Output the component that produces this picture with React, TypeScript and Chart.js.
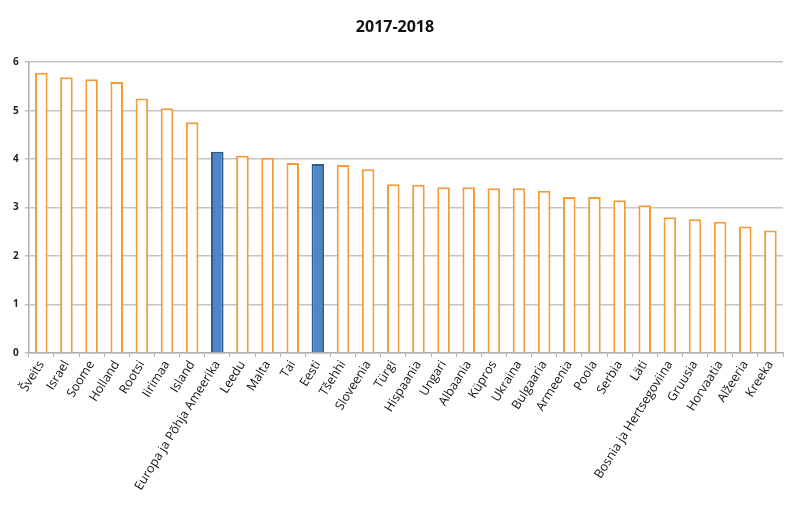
import React, { useEffect, useRef } from "react";
import { Chart, registerables } from "chart.js";

Chart.register(...registerables);

const categories = [
  "Šveits", "Israel", "Soome", "Holland", "Rootsi", "Iirimaa", "Island",
  "Europa ja Põhja Ameerika", "Leedu", "Malta", "Tai", "Eesti", "Tšehhi",
  "Sloveenia", "Türgi", "Hispaania", "Ungari", "Albaania", "Küpros", "Ukraina",
  "Bulgaaria", "Armeenia", "Poola", "Serbia", "Läti",
  "Bosnia ja Hertsegoviina", "Gruusia", "Horvaatia", "Alžeeria", "Kreeka",
];

const values = [
  5.78, 5.69, 5.65, 5.59, 5.25, 5.05, 4.76, 4.15, 4.07, 4.03, 3.92, 3.9, 3.88,
  3.79, 3.48, 3.47, 3.42, 3.42, 3.4, 3.4, 3.35, 3.22, 3.22, 3.15, 3.05, 2.8,
  2.76, 2.71, 2.61, 2.53,
];

const highlighted = ["Europa ja Põhja Ameerika", "Eesti"];

const yTicks = [0, 1, 2, 3, 4, 5, 6];

export default function App() {
  const ref = useRef<HTMLCanvasElement>(null);

  useEffect(() => {
    if (!ref.current) return;
    const isHi = categories.map((c) => highlighted.includes(c));
    const chart = new Chart(ref.current, {
      type: "bar",
      data: {
        labels: categories,
        datasets: [
          {
            data: values,
            backgroundColor: isHi.map((h) => (h ? "#4F86C6" : "#FFFFFF")),
            borderColor: isHi.map((h) => (h ? "#2E5C8E" : "#F79A3A")),
            borderWidth: 2,
            barPercentage: 0.5,
            categoryPercentage: 1,
          },
        ],
      },
      options: {
        animation: false,
        responsive: false,
        maintainAspectRatio: false,
        layout: { padding: { left: 7, right: 17, top: 14, bottom: 12 } },
        plugins: {
          legend: { display: false },
          tooltip: { enabled: false },
          title: {
            display: true,
            text: "2017-2018",
            color: "#111111",
            font: { family: "Open Sans", size: 16, weight: "bold" },
            padding: { top: 4, bottom: 25 },
          },
        },
        scales: {
          x: {
            offset: true,
            grid: {
              offset: true,
              drawOnChartArea: false,
              color: "#b0b0b0",
              tickLength: 4,
            },
            border: { color: "#b0b0b0", width: 1.5 },
            ticks: {
              autoSkip: false,
              minRotation: 58,
              maxRotation: 58,
              color: "#111111",
              padding: 1,
              font: { family: "Open Sans", size: 12.5 },
            },
          },
          y: {
            min: 0,
            max: 6,
            afterBuildTicks: (axis: any) => {
              axis.ticks = yTicks.map((v) => ({ value: v }));
            },
            grid: { color: "#c4c4c4", lineWidth: 1.5, tickLength: 4 },
            border: { color: "#b0b0b0", width: 1.5 },
            ticks: {
              color: "#222222",
              padding: 6,
              font: { family: "Open Sans", size: 10, weight: "bold" },
            },
          },
        },
      },
    });
    return () => chart.destroy();
  }, []);

  return (
    <div style={{ position: "absolute", left: 0, top: 0, width: 800, height: 506, background: "#fff" }}>
      <canvas ref={ref} width={800} height={506} style={{ width: 800, height: 506 }} />
    </div>
  );
}
